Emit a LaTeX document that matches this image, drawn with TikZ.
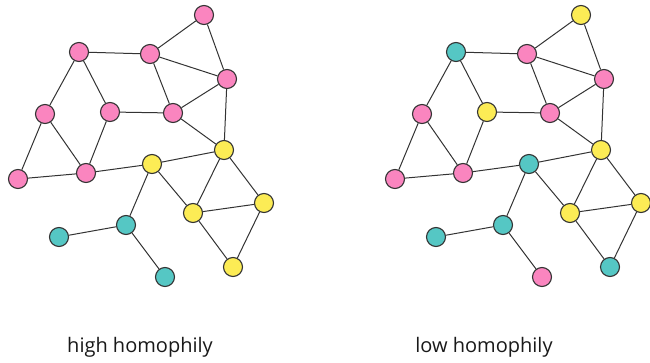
\documentclass[tikz,border=0pt]{standalone}
\usepackage{fontspec}
\setmainfont{Open Sans}
\definecolor{pk}{HTML}{FA85BF}
\definecolor{yl}{HTML}{FCEC55}
\definecolor{tl}{HTML}{55C7C4}
\definecolor{edgec}{HTML}{333333}
\begin{document}
\begin{tikzpicture}[x=1pt,y=-1pt,
  vtx/.style={circle,draw=edgec,line width=1.1pt,minimum size=19pt,inner sep=0pt},
  pkv/.style={vtx,fill=pk}, ylv/.style={vtx,fill=yl}, tlv/.style={vtx,fill=tl},
  edge/.style={draw=edgec,line width=1pt},
  lbl/.style={font=\fontsize{20}{24}\selectfont,anchor=base,text=black!90}]
\useasboundingbox (0,0) rectangle (650,363);
\foreach \dx/\p/\cA/\cB/\cC/\cD/\cE/\cF/\cG/\cH/\cI/\cJ/\cK/\cL/\cM/\cN/\cO/\cP/\cQ in
 {0/l/pkv/pkv/pkv/pkv/pkv/pkv/pkv/ylv/pkv/pkv/ylv/ylv/ylv/tlv/tlv/tlv/ylv,
  377/r/ylv/tlv/pkv/pkv/pkv/ylv/pkv/ylv/pkv/pkv/tlv/ylv/ylv/tlv/tlv/pkv/tlv}{
 \begin{scope}[xshift=\dx]
  \node[\cA] (\p A) at (204,15) {}; \node[\cB] (\p B) at (79,52) {};
  \node[\cC] (\p C) at (150,54) {}; \node[\cD] (\p D) at (227,79) {};
  \node[\cE] (\p E) at (45,114) {}; \node[\cF] (\p F) at (110,112) {};
  \node[\cG] (\p G) at (173,113) {}; \node[\cH] (\p H) at (224,150) {};
  \node[\cI] (\p I) at (18,179) {}; \node[\cJ] (\p J) at (86,173) {};
  \node[\cK] (\p K) at (152,164) {}; \node[\cL] (\p L) at (193,213) {};
  \node[\cM] (\p M) at (264,203) {}; \node[\cN] (\p N) at (126,225) {};
  \node[\cO] (\p O) at (59,237) {}; \node[\cP] (\p P) at (165,277) {};
  \node[\cQ] (\p Q) at (233,267) {};
  \draw[edge] (\p A)--(\p C) (\p A)--(\p D) (\p B)--(\p C) (\p C)--(\p D) (\p C)--(\p G)
   (\p D)--(\p G) (\p D)--(\p H) (\p B)--(\p E) (\p B)--(\p F) (\p E)--(\p I) (\p E)--(\p J)
   (\p F)--(\p J) (\p F)--(\p G) (\p G)--(\p H) (\p I)--(\p J) (\p J)--(\p K) (\p K)--(\p H)
   (\p K)--(\p L) (\p K)--(\p N) (\p H)--(\p L) (\p H)--(\p M) (\p L)--(\p M) (\p L)--(\p Q)
   (\p M)--(\p Q) (\p N)--(\p O) (\p N)--(\p P);
 \end{scope}}
\node[lbl] (t1) at (140,352) {high homophily};
\node[lbl] (t2) at (484,352) {low homophily};
\end{tikzpicture}
\end{document}
